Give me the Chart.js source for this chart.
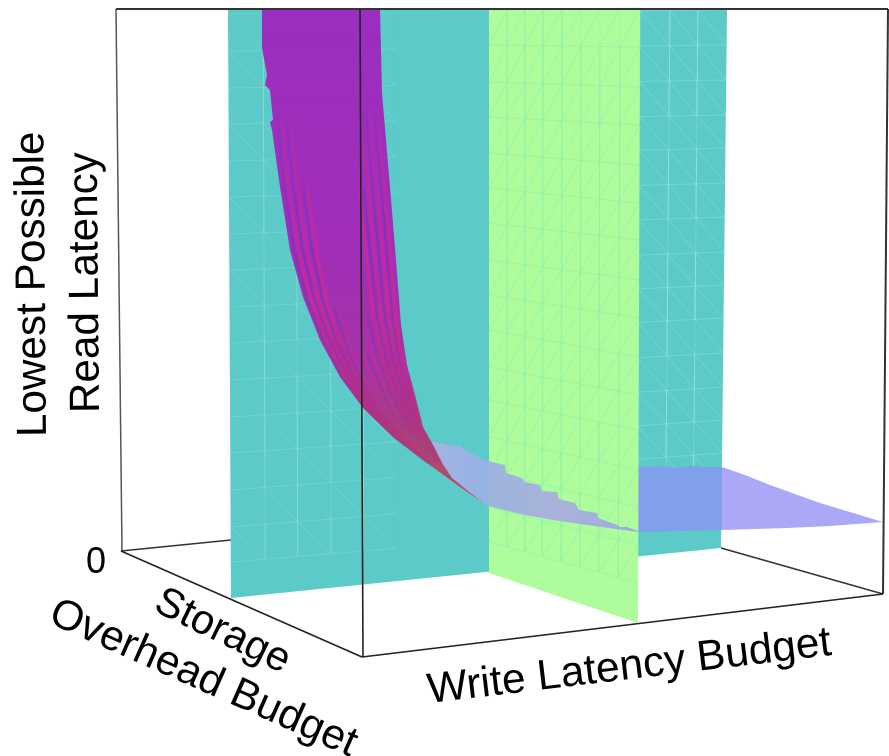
<!DOCTYPE html>
<html><head><meta charset="utf-8">
<style>html,body{margin:0;padding:0;background:#fff}canvas{display:block}</style>
<script src="https://cdn.jsdelivr.net/npm/chart.js@4"></script>
</head><body>
<canvas id="c" width="889" height="756"></canvas>
<script>
// --- planes (outline corners) ---
const cyanPlane = [[228,9],[727,9],[721,548],[231,598]];
const greenPlane = [[489,9],[640,9],[638,623],[489,573]];
// mesh on the cyan plane: row heights at its left and right edge, column positions
const cyanRowsLeft  = [14,51,88,124,161,197,234,270,307,343,380,417,453,490,527,562];
const cyanRowsRight = [10,45,80,115,148,183,217,252,285,318,353,387,420,453,488,521];
const cyanCols = [228,263,296,330,363,395,427,458,488,518,548,578,608,640,670,698,727];
const cyanLean = [3,-6];
// mesh on the green plane
const greenRowsLeft  = [10,45,82,117,153,188,223,260,295,330,367,400,437,472,507,542];
const greenRowsRight = [8,47,87,125,165,203,240,280,318,357,395,430,470,507,545,583];
const greenCols = [489,507,525,543,562,581,600,620,640];
const greenLean = [0,-2];
// the steep part of the surface: its two edges
const surfaceLeft = [[262,9],[262,48],[267,75],[265,85],[270,90],[273,120],[270,122],[272,130],[280,187],[290,250],[303,297],[320,340],[340,377],[363,408],[393,437],[427,463],[460,487],[482,502]];
const surfaceRight = [[380,9],[382,93],[390,187],[396,260],[401,325],[407,365],[415,395],[423,427],[433,445],[442,463],[452,478],[468,491],[482,502]];
// stripes across the surface: share of the way from left to right edge, start row
const stripeEdgeL = [[273,120],[280,187],[290,250],[303,297],[320,340],[340,377],[363,408],[393,437],[427,463]];
const stripeEdgeR = [[383,110],[390,187],[396,260],[401,325],[407,365],[415,395],[423,427],[433,445],[442,463]];
const magentaStripes = [[.08,0],[.16,0],[.25,1],[.72,1],[.80,0],[.88,0],[.95,0]];
const magentaThinStripes = [[.36,3],[.48,4],[.60,3]];
const violetStripes  = [[.04,0],[.12,0],[.21,1],[.31,3],[.54,4],[.66,3],[.76,1],[.84,0],[.92,0]];
// the flat part of the surface, by the background it crosses
const flatOverCyanLeft = [[431,441],[457,447],[459,445],[468,452],[488,461],[488,506],[480,501],[460,487],[445,470]];
const flatOverGreen = [[488,461],[505,465],[506,473],[522,478],[524,482],[540,485],[542,491],[557,492],[559,499],[575,503],[579,510],[597,513],[598,518],[617,525],[620,527],[627,527],[638,531],[638,532],[587,525],[553,520],[520,514],[488,506]];
const flatOverCyanRight = [[638,466],[650,467],[660,466],[675,468],[690,466],[705,467],[722,467],[722,530],[638,532]];
const flatOverWhite = [[722,467],[745,475],[770,485],[820,503],[883,522],[830,526],[787,528],[722,530]];
// box edges
const boxBack = [[[121,551],[231,540]],[[721,548],[883,594]]];
const boxLeft = [[116,9],[122,551]];
const boxFloor = [[[121,551],[362,657]],[[362,657],[883,594]]];
const boxTop = [[116,9],[888,9]];
const boxRight = [[888,9],[883,594]];
const boxFront = [[360,9],[363,657]];
// texts
const yTitleLines = ["Lowest Possible","Read Latency"];
const zeroTick = "0";
const storageTitle = ["Storage","Overhead Budget"];
const writeTitle = "Write Latency Budget";

const canvas = document.getElementById('c');
const g = canvas.getContext('2d');
const P = a => a.map(p => ({x:p[0], y:p[1]}));
const closed = a => P(a.concat([a[0]]));
const GAP = {x:null, y:null};
const lines = list => { const o=[]; list.forEach(s=>{o.push(...P(s),GAP);}); return o; };
const poly = (a,color) => ({data:closed(a),fill:'shape',backgroundColor:color,borderWidth:0,borderColor:'transparent',pointRadius:0,showLine:true,tension:0});
const stroke = (data,color,w) => ({data,fill:false,borderColor:color,borderWidth:w,pointRadius:0,showLine:true,tension:0,spanGaps:false});
const lerp = (a,b,t)=>a+(b-a)*t;

// a mesh vertex on a plane
function meshPoint(m,r,c){
  const f=(m.cols[c]-m.cols[0])/(m.cols[m.cols.length-1]-m.cols[0]);
  const y=lerp(m.left[r],m.right[r],f);
  return [m.cols[c]+(y-9)/589*lerp(m.lean[0],m.lean[1],f),y];
}
function mesh(m,colFrom,colTo,want){
  const segs=[];
  for(let r=0;r<m.left.length;r++) for(let c=colFrom;c<colTo;c++){
    const a=meshPoint(m,r,c), b=meshPoint(m,r,c+1);
    if(want==='rows') segs.push([a,b]);
    if(r+1<m.left.length){
      const d=meshPoint(m,r+1,c), e=meshPoint(m,r+1,c+1);
      if(want==='diag') segs.push(m.down?[a,e]:[d,b]);
      if(want==='cols'&&(c>0)) segs.push([a,d]);
    }
  }
  return lines(segs);
}
const cyanMesh={left:cyanRowsLeft,right:cyanRowsRight,cols:cyanCols,lean:cyanLean,down:true};
const greenMesh={left:greenRowsLeft,right:greenRowsRight,cols:greenCols,lean:greenLean,down:false};
function stripe(f,start){
  const pts=[];
  for(let i=start;i<stripeEdgeL.length;i++)
    pts.push([lerp(stripeEdgeL[i][0],stripeEdgeR[i][0],f),lerp(stripeEdgeL[i][1],stripeEdgeR[i][1],f)]);
  return P(pts);
}

const surfGrad = g.createLinearGradient(0,0,0,500);
surfGrad.addColorStop(0,'#9B2EC0');
surfGrad.addColorStop(.5,'#A02EB8');
surfGrad.addColorStop(.72,'#A533A8');
surfGrad.addColorStop(.84,'#A83C88');
surfGrad.addColorStop(.92,'#AE4A70');
surfGrad.addColorStop(1,'#B2505F');
const stripeGrad = g.createLinearGradient(0,100,0,470);
stripeGrad.addColorStop(0,'rgba(205,40,150,0)');
stripeGrad.addColorStop(.15,'rgba(205,40,150,.3)');
stripeGrad.addColorStop(.3,'rgba(205,40,150,.55)');
stripeGrad.addColorStop(.55,'rgba(205,40,150,.8)');
stripeGrad.addColorStop(.85,'rgba(190,40,125,.55)');
stripeGrad.addColorStop(1,'rgba(190,60,100,.05)');
const thinGrad = g.createLinearGradient(0,280,0,470);
thinGrad.addColorStop(0,'rgba(205,40,150,0)');
thinGrad.addColorStop(.45,'rgba(205,40,150,.6)');
thinGrad.addColorStop(1,'rgba(190,60,100,.1)');
const violetGrad = g.createLinearGradient(0,100,0,470);
violetGrad.addColorStop(0,'rgba(100,50,190,.1)');
violetGrad.addColorStop(.4,'rgba(100,50,190,.5)');
violetGrad.addColorStop(1,'rgba(110,60,150,.15)');
const flatGrad = g.createLinearGradient(431,0,488,0);
flatGrad.addColorStop(0,'#A3B4E3');
flatGrad.addColorStop(1,'#95B2E6');
const overGreenGrad = g.createLinearGradient(488,0,638,0);
overGreenGrad.addColorStop(0,'#9DB5DC');
overGreenGrad.addColorStop(.5,'#A9B2D9');
overGreenGrad.addColorStop(1,'#9BABE0');

const cyanLeftInk='rgba(190,245,240,.2)', cyanMidInk='rgba(130,230,210,.09)', cyanRightInk='rgba(190,245,240,.28)';
const datasets = [
  stroke(lines(boxBack),'#333',1.5),
  stroke(P(boxLeft),'#555',1.5),
  stroke(lines(boxFloor),'#222',1.6),
  poly(cyanPlane,'#5BCAC8'),
];
[['rows',1],['diag',.9],['cols',.8]].forEach(([kind,w])=>{
  datasets.push(
    stroke(mesh(cyanMesh,0,5,kind),cyanLeftInk,w),
    stroke(mesh(cyanMesh,5,9,kind),cyanMidInk,w),
    stroke(mesh(cyanMesh,13,16,kind),cyanRightInk,w)
  );
});
datasets.push(
  poly(flatOverCyanLeft,flatGrad),
  poly(flatOverCyanRight,'#80A0EB'),
  poly(flatOverWhite,'#ABA8F8'),
  poly(surfaceLeft.concat(surfaceRight.slice().reverse()),surfGrad)
);
violetStripes.forEach(s=>datasets.push(stroke(stripe(s[0],s[1]),violetGrad,2)));
magentaThinStripes.forEach(s=>datasets.push(stroke(stripe(s[0],s[1]),thinGrad,2.5)));
magentaStripes.forEach(s=>datasets.push(stroke(stripe(s[0],s[1]),stripeGrad,3.5)));
datasets.push(poly(greenPlane,'#AEFC9B'));
[['rows',1,.42],['diag',.9,.45],['cols',.8,.3]].forEach(([kind,w,a])=>{
  datasets.push(stroke(mesh(greenMesh,0,8,kind),'rgba(125,235,180,'+a+')',w));
});
datasets.push(
  poly(flatOverGreen,overGreenGrad),
  stroke(P(boxTop),'#333',2.2),
  stroke(P(boxRight),'#333',2),
  stroke(P(boxFront),'#222',1.6)
);
datasets.reverse(); // Chart.js paints the first dataset last

const textPlugin = {
  id:'texts',
  afterDraw(chart){
    const c=chart.ctx;
    const put=(t,x,y,deg,size)=>{
      c.save();c.translate(x,y);c.rotate(deg*Math.PI/180);
      c.font=size+'px "Liberation Sans", Arial, sans-serif';
      c.fillStyle='#000';c.textAlign='left';c.textBaseline='alphabetic';
      c.fillText(t,0,0);c.restore();
    };
    put(yTitleLines[0],46,437,-90.5,42.3);
    put(yTitleLines[1],99,413,-90.5,42.3);
    put(zeroTick,86,573,0,36);
    put(storageTitle[0],152,610,26,41.5);
    put(storageTitle[1],47,622,24,42.3);
    put(writeTitle,429,703,-6.8,42.6);
  }
};

new Chart(g,{
  type:'scatter',
  data:{datasets},
  options:{
    responsive:false,animation:false,
    layout:{padding:0},
    plugins:{legend:{display:false},tooltip:{enabled:false},title:{display:false}},
    scales:{
      x:{type:'linear',min:0,max:889,display:false},
      y:{type:'linear',min:0,max:756,reverse:true,display:false}
    }
  },
  plugins:[textPlugin]
});
</script>
</body></html>
